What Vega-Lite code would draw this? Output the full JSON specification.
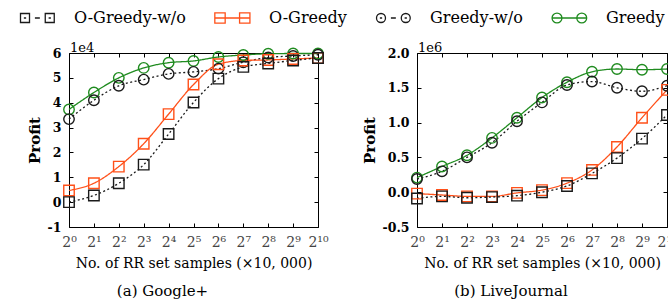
{
  "$schema": "https://vega.github.io/schema/vega-lite/v6.json",
  "background": "white",
  "padding": {"left": 17, "top": 10, "right": 0, "bottom": 0},
  "bounds": "flush",
  "spacing": 99,
  "datasets": {
    "google": [
      {"samples": 1, "algo": "Greedy", "profit": 37300},
      {"samples": 2, "algo": "Greedy", "profit": 44100},
      {"samples": 4, "algo": "Greedy", "profit": 50000},
      {"samples": 8, "algo": "Greedy", "profit": 54000},
      {"samples": 16, "algo": "Greedy", "profit": 56100},
      {"samples": 32, "algo": "Greedy", "profit": 56800},
      {"samples": 64, "algo": "Greedy", "profit": 58400},
      {"samples": 128, "algo": "Greedy", "profit": 59200},
      {"samples": 256, "algo": "Greedy", "profit": 59700},
      {"samples": 512, "algo": "Greedy", "profit": 59800},
      {"samples": 1024, "algo": "Greedy", "profit": 59800},
      {"samples": 1, "algo": "Greedy-w/o", "profit": 33400},
      {"samples": 2, "algo": "Greedy-w/o", "profit": 41000},
      {"samples": 4, "algo": "Greedy-w/o", "profit": 46800},
      {"samples": 8, "algo": "Greedy-w/o", "profit": 49300},
      {"samples": 16, "algo": "Greedy-w/o", "profit": 51600},
      {"samples": 32, "algo": "Greedy-w/o", "profit": 52400},
      {"samples": 64, "algo": "Greedy-w/o", "profit": 53700},
      {"samples": 128, "algo": "Greedy-w/o", "profit": 56300},
      {"samples": 256, "algo": "Greedy-w/o", "profit": 58200},
      {"samples": 512, "algo": "Greedy-w/o", "profit": 58800},
      {"samples": 1024, "algo": "Greedy-w/o", "profit": 59300},
      {"samples": 1, "algo": "O-Greedy", "profit": 4700},
      {"samples": 2, "algo": "O-Greedy", "profit": 7600},
      {"samples": 4, "algo": "O-Greedy", "profit": 14300},
      {"samples": 8, "algo": "O-Greedy", "profit": 23500},
      {"samples": 16, "algo": "O-Greedy", "profit": 35400},
      {"samples": 32, "algo": "O-Greedy", "profit": 47300},
      {"samples": 64, "algo": "O-Greedy", "profit": 55500},
      {"samples": 128, "algo": "O-Greedy", "profit": 57000},
      {"samples": 256, "algo": "O-Greedy", "profit": 57200},
      {"samples": 512, "algo": "O-Greedy", "profit": 57600},
      {"samples": 1024, "algo": "O-Greedy", "profit": 58000},
      {"samples": 1, "algo": "O-Greedy-w/o", "profit": 0},
      {"samples": 2, "algo": "O-Greedy-w/o", "profit": 2700},
      {"samples": 4, "algo": "O-Greedy-w/o", "profit": 7600},
      {"samples": 8, "algo": "O-Greedy-w/o", "profit": 15100},
      {"samples": 16, "algo": "O-Greedy-w/o", "profit": 27400},
      {"samples": 32, "algo": "O-Greedy-w/o", "profit": 40100},
      {"samples": 64, "algo": "O-Greedy-w/o", "profit": 49700},
      {"samples": 128, "algo": "O-Greedy-w/o", "profit": 54400},
      {"samples": 256, "algo": "O-Greedy-w/o", "profit": 55800},
      {"samples": 512, "algo": "O-Greedy-w/o", "profit": 57000},
      {"samples": 1024, "algo": "O-Greedy-w/o", "profit": 58000}
    ],
    "livejournal": [
      {"samples": 1, "algo": "Greedy", "profit": 210000},
      {"samples": 2, "algo": "Greedy", "profit": 370000},
      {"samples": 4, "algo": "Greedy", "profit": 530000},
      {"samples": 8, "algo": "Greedy", "profit": 780000},
      {"samples": 16, "algo": "Greedy", "profit": 1070000},
      {"samples": 32, "algo": "Greedy", "profit": 1360000},
      {"samples": 64, "algo": "Greedy", "profit": 1580000},
      {"samples": 128, "algo": "Greedy", "profit": 1730000},
      {"samples": 256, "algo": "Greedy", "profit": 1770000},
      {"samples": 512, "algo": "Greedy", "profit": 1760000},
      {"samples": 1024, "algo": "Greedy", "profit": 1770000},
      {"samples": 1, "algo": "Greedy-w/o", "profit": 190000},
      {"samples": 2, "algo": "Greedy-w/o", "profit": 300000},
      {"samples": 4, "algo": "Greedy-w/o", "profit": 500000},
      {"samples": 8, "algo": "Greedy-w/o", "profit": 710000},
      {"samples": 16, "algo": "Greedy-w/o", "profit": 1020000},
      {"samples": 32, "algo": "Greedy-w/o", "profit": 1290000},
      {"samples": 64, "algo": "Greedy-w/o", "profit": 1540000},
      {"samples": 128, "algo": "Greedy-w/o", "profit": 1590000},
      {"samples": 256, "algo": "Greedy-w/o", "profit": 1500000},
      {"samples": 512, "algo": "Greedy-w/o", "profit": 1450000},
      {"samples": 1024, "algo": "Greedy-w/o", "profit": 1530000},
      {"samples": 1, "algo": "O-Greedy", "profit": -20000},
      {"samples": 2, "algo": "O-Greedy", "profit": -40000},
      {"samples": 4, "algo": "O-Greedy", "profit": -60000},
      {"samples": 8, "algo": "O-Greedy", "profit": -60000},
      {"samples": 16, "algo": "O-Greedy", "profit": -10000},
      {"samples": 32, "algo": "O-Greedy", "profit": 30000},
      {"samples": 64, "algo": "O-Greedy", "profit": 130000},
      {"samples": 128, "algo": "O-Greedy", "profit": 320000},
      {"samples": 256, "algo": "O-Greedy", "profit": 650000},
      {"samples": 512, "algo": "O-Greedy", "profit": 1070000},
      {"samples": 1024, "algo": "O-Greedy", "profit": 1470000},
      {"samples": 1, "algo": "O-Greedy-w/o", "profit": -90000},
      {"samples": 2, "algo": "O-Greedy-w/o", "profit": -60000},
      {"samples": 4, "algo": "O-Greedy-w/o", "profit": -80000},
      {"samples": 8, "algo": "O-Greedy-w/o", "profit": -70000},
      {"samples": 16, "algo": "O-Greedy-w/o", "profit": -50000},
      {"samples": 32, "algo": "O-Greedy-w/o", "profit": 0},
      {"samples": 64, "algo": "O-Greedy-w/o", "profit": 90000},
      {"samples": 128, "algo": "O-Greedy-w/o", "profit": 270000},
      {"samples": 256, "algo": "O-Greedy-w/o", "profit": 490000},
      {"samples": 512, "algo": "O-Greedy-w/o", "profit": 770000},
      {"samples": 1024, "algo": "O-Greedy-w/o", "profit": 1110000}
    ]
  },
  "hconcat": [
    {
      "width": 249,
      "height": 174,
      "data": {"name": "google"},
      "title": {"text": "(a) Google+", "orient": "bottom", "anchor": "middle", "frame": "group", "offset": 14, "dx": -31, "fontSize": 15, "font": "DejaVu Serif", "fontWeight": "normal", "color": "black"},
      "layer": [
        {
          "mark": {"type": "line", "interpolate": "monotone", "strokeWidth": 1.3},
          "encoding": {
            "x": {"field": "samples", "type": "quantitative", "scale": {"type": "log", "base": 2, "domain": [1, 1024]},
              "axis": {"orient": "bottom", "values": [1, 2, 4, 8, 16, 32, 64, 128, 256, 512, 1024], "labelExpr": "'2' + ['⁰','¹','²','³','⁴','⁵','⁶','⁷','⁸','⁹','¹⁰'][round(log(datum.value)/LN2)]", "labelFont": "DejaVu Serif", "labelFontSize": 14, "labelColor": "#444", "labelFlush": false, "tickSize": -4, "tickColor": "black", "labelPadding": 12, "domainColor": "black", "grid": false, "title": "No. of RR set samples (×10, 000)", "titleFont": "DejaVu Serif", "titleFontWeight": "normal", "titleFontSize": 14, "titleColor": "black", "titlePadding": 7}},
            "y": {"field": "profit", "type": "quantitative", "scale": {"domain": [-10000, 60000], "nice": false, "zero": false},
              "axis": {"orient": "left", "values": [-10000, 0, 10000, 20000, 30000, 40000, 50000, 60000], "labelExpr": "datum.value/10000 + ''", "labelFont": "DejaVu Serif", "labelFontWeight": "bold", "labelFontSize": 12.5, "labelColor": "black", "tickSize": -4, "tickColor": "black", "labelPadding": 12, "domainColor": "black", "grid": false, "title": "Profit", "titleFont": "DejaVu Serif", "titleFontWeight": "bold", "titleFontSize": 15, "titleColor": "black", "titlePadding": 5}},
            "color": {"field": "algo", "type": "nominal", "scale": {"domain": ["O-Greedy-w/o", "O-Greedy", "Greedy-w/o", "Greedy"], "range": ["#1a1a1a", "#ff5019", "#1a1a1a", "#1f8b1f"]}, "legend": null},
            "strokeDash": {"field": "algo", "type": "nominal", "scale": {"domain": ["O-Greedy-w/o", "O-Greedy", "Greedy-w/o", "Greedy"], "range": [[2, 2.5], [1, 0], [2, 2.5], [1, 0]]}, "legend": null}
          }
        },
        {
          "mark": {"type": "point", "filled": false, "size": 110, "strokeWidth": 1.4, "opacity": 1},
          "encoding": {
            "x": {"field": "samples", "type": "quantitative", "axis": {"orient": "top", "values": [1, 2, 4, 8, 16, 32, 64, 128, 256, 512, 1024], "labels": false, "tickSize": -4, "tickColor": "black", "domainColor": "black", "grid": false, "title": null}},
            "y": {"field": "profit", "type": "quantitative", "axis": {"orient": "right", "values": [-10000, 0, 10000, 20000, 30000, 40000, 50000, 60000], "labels": false, "tickSize": -4, "tickColor": "black", "domainColor": "black", "grid": false, "title": null}},
            "color": {"field": "algo", "type": "nominal", "scale": {"domain": ["O-Greedy-w/o", "O-Greedy", "Greedy-w/o", "Greedy"], "range": ["#1a1a1a", "#ff5019", "#1a1a1a", "#1f8b1f"]}, "legend": null},
            "shape": {"field": "algo", "type": "nominal", "scale": {"domain": ["O-Greedy-w/o", "O-Greedy", "Greedy-w/o", "Greedy"], "range": ["square", "square", "circle", "circle"]}, "legend": null}
          }
        },
        {
          "transform": [{"filter": "false"}],
          "mark": {"type": "point", "filled": false, "strokeWidth": 1.3, "opacity": 1},
          "encoding": {
            "x": {"field": "samples", "type": "quantitative", "axis": null},
            "y": {"field": "profit", "type": "quantitative", "axis": null},
            "color": {"field": "algo", "type": "nominal", "scale": {"domain": ["O-Greedy-w/o", "O-Greedy", "Greedy-w/o", "Greedy"], "range": ["#1a1a1a", "#ff5019", "#1a1a1a", "#1f8b1f"]},
              "legend": {"orient": "none", "legendX": -52, "legendY": -43, "direction": "horizontal", "title": null, "symbolSize": 81, "symbolStrokeWidth": 1.3, "symbolFillColor": "transparent", "labelFont": "DejaVu Serif", "labelFontSize": 16, "labelColor": "black", "labelOffset": 41, "columnPadding": 26}},
            "shape": {"field": "algo", "type": "nominal", "scale": {"domain": ["O-Greedy-w/o", "O-Greedy", "Greedy-w/o", "Greedy"], "range": ["M-1,-1H1V1H-1Z M-0.25,0H0.25 M2.2,0H3.3 M5.25,0H5.75 M4.5,-1H6.5V1H4.5Z", "M-1.15,-1.15H1.15V1.15H-1.15Z M4.35,-1.15H6.65V1.15H4.35Z M-1.15,0H6.65", "M1,0A1,1,0,1,1,-1,0A1,1,0,1,1,1,0Z M-0.25,0H0.25 M2.2,0H3.3 M6.5,0A1,1,0,1,1,4.5,0A1,1,0,1,1,6.5,0Z M5.25,0H5.75", "M1.1,0A1.1,1.1,0,1,1,-1.1,0A1.1,1.1,0,1,1,1.1,0Z M6.6,0A1.1,1.1,0,1,1,4.4,0A1.1,1.1,0,1,1,6.6,0Z M-1.1,0H6.6"]},
              "legend": {"orient": "none", "legendX": -52, "legendY": -43, "direction": "horizontal", "title": null, "symbolSize": 81, "symbolStrokeWidth": 1.3, "symbolFillColor": "transparent", "labelFont": "DejaVu Serif", "labelFontSize": 16, "labelColor": "black", "labelOffset": 41, "columnPadding": 26}}
          }
        },
        {
          "data": {"values": [{"label": "1e4"}]},
          "mark": {"type": "text", "align": "left", "baseline": "alphabetic", "dx": 1, "dy": -1, "font": "DejaVu Serif", "fontSize": 13, "color": "black"},
          "encoding": {
            "x": {"datum": 1, "type": "quantitative", "axis": null},
            "y": {"datum": 60000, "type": "quantitative", "axis": null},
            "text": {"field": "label"}
          }
        }
      ],
      "resolve": {"axis": {"x": "independent", "y": "independent"}, "scale": {"color": "independent", "shape": "independent", "strokeDash": "independent"}}
    },
    {
      "width": 250,
      "height": 174,
      "data": {"name": "livejournal"},
      "title": {"text": "(b) LiveJournal", "orient": "bottom", "anchor": "middle", "frame": "group", "offset": 14, "dx": -31, "fontSize": 15, "font": "DejaVu Serif", "fontWeight": "normal", "color": "black"},
      "layer": [
        {
          "mark": {"type": "line", "interpolate": "monotone", "strokeWidth": 1.3},
          "encoding": {
            "x": {"field": "samples", "type": "quantitative", "scale": {"type": "log", "base": 2, "domain": [1, 1024]},
              "axis": {"orient": "bottom", "values": [1, 2, 4, 8, 16, 32, 64, 128, 256, 512, 1024], "labelExpr": "'2' + ['⁰','¹','²','³','⁴','⁵','⁶','⁷','⁸','⁹','¹⁰'][round(log(datum.value)/LN2)]", "labelFont": "DejaVu Serif", "labelFontSize": 14, "labelColor": "#444", "labelFlush": false, "tickSize": -4, "tickColor": "black", "labelPadding": 12, "domainColor": "black", "grid": false, "title": "No. of RR set samples (×10, 000)", "titleFont": "DejaVu Serif", "titleFontWeight": "normal", "titleFontSize": 14, "titleColor": "black", "titlePadding": 7}},
            "y": {"field": "profit", "type": "quantitative", "scale": {"domain": [-500000, 2000000], "nice": false, "zero": false},
              "axis": {"orient": "left", "values": [-500000, 0, 500000, 1000000, 1500000, 2000000], "labelExpr": "replace(format(datum.value/1000000, '.1f'), '−', '-')", "labelFont": "DejaVu Serif", "labelFontWeight": "bold", "labelFontSize": 12.5, "labelColor": "black", "tickSize": -4, "tickColor": "black", "labelPadding": 12, "domainColor": "black", "grid": false, "title": "Profit", "titleFont": "DejaVu Serif", "titleFontWeight": "bold", "titleFontSize": 15, "titleColor": "black", "titlePadding": 5}},
            "color": {"field": "algo", "type": "nominal", "scale": {"domain": ["O-Greedy-w/o", "O-Greedy", "Greedy-w/o", "Greedy"], "range": ["#1a1a1a", "#ff5019", "#1a1a1a", "#1f8b1f"]}, "legend": null},
            "strokeDash": {"field": "algo", "type": "nominal", "scale": {"domain": ["O-Greedy-w/o", "O-Greedy", "Greedy-w/o", "Greedy"], "range": [[2, 2.5], [1, 0], [2, 2.5], [1, 0]]}, "legend": null}
          }
        },
        {
          "mark": {"type": "point", "filled": false, "size": 110, "strokeWidth": 1.4, "opacity": 1},
          "encoding": {
            "x": {"field": "samples", "type": "quantitative", "axis": {"orient": "top", "values": [1, 2, 4, 8, 16, 32, 64, 128, 256, 512, 1024], "labels": false, "tickSize": -4, "tickColor": "black", "domainColor": "black", "grid": false, "title": null}},
            "y": {"field": "profit", "type": "quantitative", "axis": {"orient": "right", "values": [-500000, 0, 500000, 1000000, 1500000, 2000000], "labels": false, "tickSize": -4, "tickColor": "black", "domainColor": "black", "grid": false, "title": null}},
            "color": {"field": "algo", "type": "nominal", "scale": {"domain": ["O-Greedy-w/o", "O-Greedy", "Greedy-w/o", "Greedy"], "range": ["#1a1a1a", "#ff5019", "#1a1a1a", "#1f8b1f"]}, "legend": null},
            "shape": {"field": "algo", "type": "nominal", "scale": {"domain": ["O-Greedy-w/o", "O-Greedy", "Greedy-w/o", "Greedy"], "range": ["square", "square", "circle", "circle"]}, "legend": null}
          }
        },
        {
          "data": {"values": [{"label": "1e6"}]},
          "mark": {"type": "text", "align": "left", "baseline": "alphabetic", "dx": 1, "dy": -1, "font": "DejaVu Serif", "fontSize": 13, "color": "black"},
          "encoding": {
            "x": {"datum": 1, "type": "quantitative", "axis": null},
            "y": {"datum": 2000000, "type": "quantitative", "axis": null},
            "text": {"field": "label"}
          }
        }
      ],
      "resolve": {"axis": {"x": "independent", "y": "independent"}}
    }
  ],
  "resolve": {
    "scale": {"x": "independent", "y": "independent", "color": "independent", "shape": "independent", "strokeDash": "independent"}
  },
  "config": {
    "view": {"stroke": null},
    "font": "DejaVu Serif",
    "axis": {"grid": false}
  }
}
